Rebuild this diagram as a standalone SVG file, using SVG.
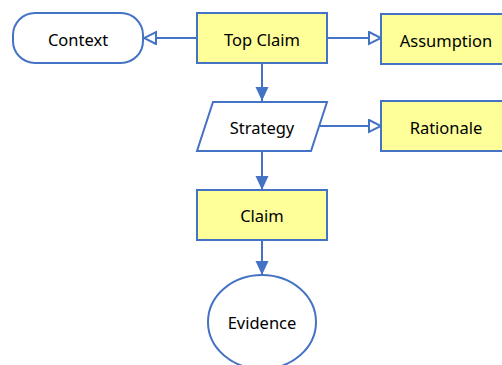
<svg xmlns="http://www.w3.org/2000/svg" width="502" height="365" viewBox="0 0 502 365">
  <style>
    .shape { stroke: #4472C4; stroke-width: 2; }
    .goal { fill: #FFFF99; }
    .plain { fill: #FFFFFF; }
    .label { font-family: "Noto Sans", "Open Sans", sans-serif; font-size: 16.5px; fill: #000000; text-anchor: middle; dominant-baseline: central; }
    .edge { stroke: #4472C4; stroke-width: 2; fill: none; }
  </style>
  <defs>
    <marker id="hollow" markerWidth="15" markerHeight="15" refX="13" refY="7" orient="auto" markerUnits="userSpaceOnUse">
      <path d="M1,1 L13,7 L1,13 Z" fill="#FFFFFF" stroke="#4472C4" stroke-width="2"/>
    </marker>
    <marker id="solid" markerWidth="14" markerHeight="16" refX="14" refY="7" orient="auto" markerUnits="userSpaceOnUse">
      <path d="M0,0.5 L14,7 L0,13.5 Z" fill="#4472C4"/>
    </marker>
  </defs>

  <g id="connectors">
    <line class="edge" x1="197" y1="38" x2="144" y2="38" marker-end="url(#hollow)"/>
    <line class="edge" x1="327" y1="38" x2="381" y2="38" marker-end="url(#hollow)"/>
    <line class="edge" x1="320" y1="126" x2="381" y2="126" marker-end="url(#hollow)"/>
    <line class="edge" x1="262" y1="63" x2="262" y2="101" marker-end="url(#solid)"/>
    <line class="edge" x1="262" y1="151" x2="262" y2="190" marker-end="url(#solid)"/>
    <line class="edge" x1="262" y1="240" x2="262" y2="275" marker-end="url(#solid)"/>
  </g>

  <g id="context">
    <rect class="shape plain" x="13" y="13" width="130" height="50" rx="22" ry="22"/>
    <text class="label" x="78" y="39">Context</text>
  </g>
  <g id="top-claim">
    <rect class="shape goal" x="197" y="13" width="130" height="50"/>
    <text class="label" x="262" y="39">Top Claim</text>
  </g>
  <g id="assumption">
    <rect class="shape goal" x="381" y="14" width="130" height="50"/>
    <text class="label" x="446" y="40">Assumption</text>
  </g>
  <g id="strategy">
    <polygon class="shape plain" points="213,102 327,102 311,151 197,151"/>
    <text class="label" x="262" y="127">Strategy</text>
  </g>
  <g id="rationale">
    <rect class="shape goal" x="381" y="101" width="130" height="50"/>
    <text class="label" x="446" y="127">Rationale</text>
  </g>
  <g id="claim">
    <rect class="shape goal" x="197" y="190" width="130" height="50"/>
    <text class="label" x="262" y="215">Claim</text>
  </g>
  <g id="evidence">
    <ellipse class="shape plain" cx="262" cy="322" rx="54" ry="47"/>
    <text class="label" x="262" y="322">Evidence</text>
  </g>
</svg>
